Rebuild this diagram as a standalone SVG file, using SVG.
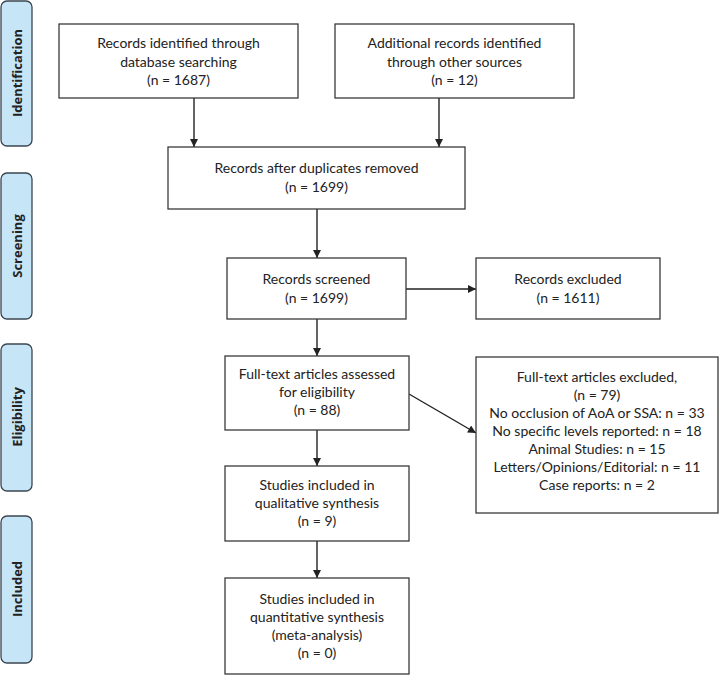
<svg xmlns="http://www.w3.org/2000/svg" width="720" height="676" viewBox="0 0 720 676">
<defs>
<style>
.box{fill:#fff;stroke:#3a3a3a;stroke-width:1.3}
.tab{fill:#c6e5f7;stroke:#3b4550;stroke-width:1.3}
.t{font-family:Lato,"Liberation Sans",sans-serif;font-size:14px;fill:#222;text-anchor:middle}
.tt{font-family:"Open Sans","Liberation Sans",sans-serif;font-size:13px;font-weight:bold;fill:#222;text-anchor:middle;dominant-baseline:central}
.ln{stroke:#222;stroke-width:1.4;fill:none;marker-end:url(#ah)}
</style>
<marker id="ah" viewBox="0 0 10 10" refX="10" refY="5" markerUnits="userSpaceOnUse" markerWidth="9" markerHeight="8" orient="auto">
<path d="M0,0 L10,5 L0,10 z" fill="#222"/>
</marker>
</defs>
<rect width="720" height="676" fill="#fff"/>

<g id="tab-identification"><rect class="tab" x="1" y="1" width="31" height="145" rx="6"/><text class="tt" transform="translate(17,73) rotate(-90)">Identification</text></g>
<g id="tab-screening"><rect class="tab" x="1" y="173" width="31" height="146" rx="6"/><text class="tt" transform="translate(17,246) rotate(-90)">Screening</text></g>
<g id="tab-eligibility"><rect class="tab" x="1" y="344" width="31" height="147" rx="6"/><text class="tt" transform="translate(17,417) rotate(-90)">Eligibility</text></g>
<g id="tab-included"><rect class="tab" x="1" y="516" width="31" height="147" rx="6"/><text class="tt" transform="translate(17,589) rotate(-90)">Included</text></g>

<g id="connectors">
<line class="ln" x1="194" y1="98" x2="194" y2="147"/>
<line class="ln" x1="439" y1="98" x2="439" y2="147"/>
<line class="ln" x1="317" y1="209" x2="317" y2="258"/>
<line class="ln" x1="406" y1="289" x2="476" y2="289"/>
<line class="ln" x1="317" y1="319" x2="317" y2="356"/>
<line class="ln" x1="409" y1="394" x2="476" y2="433"/>
<line class="ln" x1="317" y1="430" x2="317" y2="466"/>
<line class="ln" x1="317" y1="541" x2="317" y2="578"/>
</g>

<g id="n-database"><rect class="box" x="59" y="24" width="239" height="74"/>
<text class="t" x="178.5" y="48">Records identified through</text>
<text class="t" x="178.5" y="67">database searching</text>
<text class="t" x="178.5" y="85">(n = 1687)</text></g>

<g id="n-other"><rect class="box" x="335" y="24" width="239" height="74"/>
<text class="t" x="454.5" y="48">Additional records identified</text>
<text class="t" x="454.5" y="67">through other sources</text>
<text class="t" x="454.5" y="85">(n = 12)</text></g>

<g id="n-dedup"><rect class="box" x="168" y="147" width="297" height="62"/>
<text class="t" x="316.5" y="173">Records after duplicates removed</text>
<text class="t" x="316.5" y="192">(n = 1699)</text></g>

<g id="n-screened"><rect class="box" x="227" y="258" width="179" height="61"/>
<text class="t" x="316.5" y="284">Records screened</text>
<text class="t" x="316.5" y="303">(n = 1699)</text></g>

<g id="n-excluded"><rect class="box" x="476" y="258" width="184" height="61"/>
<text class="t" x="568" y="284">Records excluded</text>
<text class="t" x="568" y="303">(n = 1611)</text></g>

<g id="n-fulltext"><rect class="box" x="225" y="356" width="184" height="74"/>
<text class="t" x="317" y="379">Full-text articles assessed</text>
<text class="t" x="317" y="397">for eligibility</text>
<text class="t" x="317" y="415">(n = 88)</text></g>

<g id="n-ft-excluded"><rect class="box" x="476" y="357" width="242" height="156"/>
<text class="t" x="597" y="382">Full-text articles excluded,</text>
<text class="t" x="597" y="400">(n = 79)</text>
<text class="t" x="597" y="418">No occlusion of AoA or SSA: n = 33</text>
<text class="t" x="597" y="436">No specific levels reported: n = 18</text>
<text class="t" x="597" y="454">Animal Studies: n = 15</text>
<text class="t" x="597" y="472">Letters/Opinions/Editorial: n = 11</text>
<text class="t" x="597" y="490">Case reports: n = 2</text></g>

<g id="n-qualitative"><rect class="box" x="225" y="466" width="184" height="75"/>
<text class="t" x="317" y="490">Studies included in</text>
<text class="t" x="317" y="508">qualitative synthesis</text>
<text class="t" x="317" y="526">(n = 9)</text></g>

<g id="n-quantitative"><rect class="box" x="225" y="578" width="184" height="96"/>
<text class="t" x="317" y="604">Studies included in</text>
<text class="t" x="317" y="622">quantitative synthesis</text>
<text class="t" x="317" y="640">(meta-analysis)</text>
<text class="t" x="317" y="658">(n = 0)</text></g>
</svg>
